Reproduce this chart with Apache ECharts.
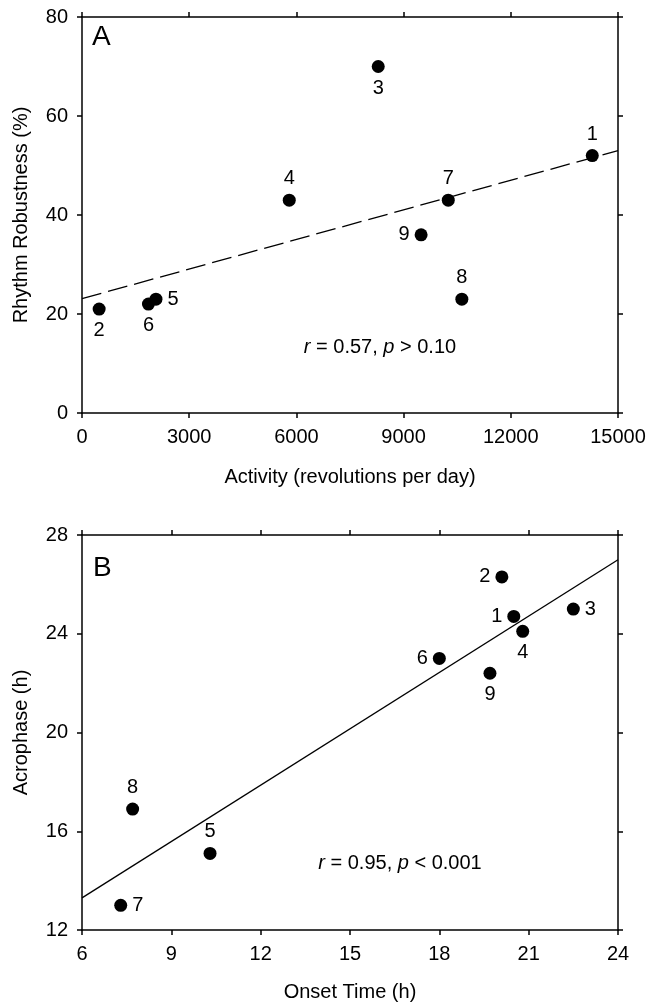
<!DOCTYPE html>
<html>
<head>
<meta charset="utf-8">
<script src="https://cdn.jsdelivr.net/npm/echarts@6/dist/echarts.min.js"></script>
<style>
  html, body { margin: 0; padding: 0; background: #fff; }
  #chart { width: 649px; height: 1004px; }
</style>
</head>
<body>
<div id="chart"></div>
<script>
// panel A: activity vs rhythm robustness
var idsA = ['1', '2', '3', '4', '5', '6', '7', '8', '9'];
var activityA = [14280, 480, 8290, 5800, 2070, 1860, 10250, 10630, 9490];
var robustA = [52, 21, 70, 43, 23, 22, 43, 23, 36];
var fitAx = [0, 15000];
var fitAy = [23.1, 53.0];
var ticksAx = [0, 15000, 3000];
var ticksAy = [0, 80, 20];

// panel B: onset time vs acrophase
var idsB = ['1', '2', '3', '4', '5', '6', '7', '8', '9'];
var onsetB = [20.5, 20.1, 22.5, 20.8, 10.3, 18.0, 7.3, 7.7, 19.7];
var acroB = [24.7, 26.3, 25.0, 24.1, 15.1, 23.0, 13.0, 16.9, 22.4];
var fitBx = [6, 24];
var fitBy = [13.3, 27.0];
var ticksBx = [6, 24, 3];
var ticksBy = [12, 28, 4];

// where each point number sits
var posA = ['top', 'bottom', 'bottom', 'top', 'right', 'bottom', 'top', 'top', 'left'];
var posB = ['left', 'left', 'right', 'bottom', 'top', 'left', 'right', 'top', 'bottom'];

var FONT = "'Liberation Sans', Arial, sans-serif";

function axis(grid, pos, t, name, gap, labels) {
  var a = {
    type: 'value',
    gridIndex: grid,
    position: pos,
    min: t[0],
    max: t[1],
    interval: t[2],
    splitLine: { show: false },
    axisLine: { show: true, onZero: false, lineStyle: { color: '#000', width: 1.5 } },
    axisTick: { show: true, inside: false, length: 5, lineStyle: { color: '#000', width: 1.5 } },
    axisLabel: {
      show: labels, color: '#000', fontSize: 20, fontFamily: FONT, margin: 14,
      formatter: function (v) { return String(v); }
    }
  };
  if (name) {
    a.name = name;
    a.nameLocation = 'middle';
    a.nameGap = gap;
    a.nameTextStyle = { color: '#000', fontSize: 20, fontFamily: FONT };
  }
  return a;
}

function points(xs, ys, ids, pos) {
  return xs.map(function (x, i) {
    return { value: [x, ys[i]], name: ids[i], label: { position: pos[i] } };
  });
}

function pairs(xs, ys) {
  return xs.map(function (x, i) { return [x, ys[i]]; });
}

var dotLabel = { show: true, formatter: '{b}', color: '#000', fontSize: 20, fontFamily: FONT, distance: 5 };

var chart = echarts.init(document.getElementById('chart'));
chart.setOption({
  animation: false,
  grid: [
    { left: 82, top: 17, width: 536, height: 396, containLabel: false, outerBoundsMode: 'none' },
    { left: 82, top: 535, width: 536, height: 395, containLabel: false, outerBoundsMode: 'none' }
  ],
  xAxis: [
    axis(0, 'bottom', ticksAx, 'Activity (revolutions per day)', 54, true),
    axis(0, 'top', ticksAx, null, 0, false),
    axis(1, 'bottom', ticksBx, 'Onset Time (h)', 52, true),
    axis(1, 'top', ticksBx, null, 0, false)
  ],
  yAxis: [
    axis(0, 'left', ticksAy, 'Rhythm Robustness (%)', 51, true),
    axis(0, 'right', ticksAy, null, 0, false),
    axis(1, 'left', ticksBy, 'Acrophase (h)', 51, true),
    axis(1, 'right', ticksBy, null, 0, false)
  ],
  series: [
    {
      type: 'line', xAxisIndex: 0, yAxisIndex: 0,
      data: pairs(fitAx, fitAy), symbol: 'none', silent: true,
      lineStyle: { color: '#000', width: 1.3, type: [20, 7] }
    },
    {
      type: 'line', xAxisIndex: 2, yAxisIndex: 2,
      data: pairs(fitBx, fitBy), symbol: 'none', silent: true,
      lineStyle: { color: '#000', width: 1.3 }
    },
    {
      type: 'scatter', xAxisIndex: 0, yAxisIndex: 0,
      symbolSize: 13, itemStyle: { color: '#000', opacity: 1 },
      label: dotLabel,
      data: points(activityA, robustA, idsA, posA)
    },
    {
      type: 'scatter', xAxisIndex: 2, yAxisIndex: 2,
      symbolSize: 13, itemStyle: { color: '#000', opacity: 1 },
      label: dotLabel,
      data: points(onsetB, acroB, idsB, posB)
    }
  ],
  graphic: [
    { type: 'text', x: 92, y: 37, style: { text: 'A', fontSize: 28, fontFamily: FONT, fill: '#000', verticalAlign: 'middle' } },
    { type: 'text', x: 93, y: 568, style: { text: 'B', fontSize: 28, fontFamily: FONT, fill: '#000', verticalAlign: 'middle' } },
    {
      type: 'text', x: 380, y: 347,
      style: {
        text: '{i|r} = 0.57, {i|p} > 0.10', fontSize: 20, fontFamily: FONT, fill: '#000',
        align: 'center', verticalAlign: 'middle',
        rich: { i: { fontStyle: 'italic', fontSize: 20, fontFamily: FONT, fill: '#000' } }
      }
    },
    {
      type: 'text', x: 400, y: 863,
      style: {
        text: '{i|r} = 0.95, {i|p} < 0.001', fontSize: 20, fontFamily: FONT, fill: '#000',
        align: 'center', verticalAlign: 'middle',
        rich: { i: { fontStyle: 'italic', fontSize: 20, fontFamily: FONT, fill: '#000' } }
      }
    }
  ]
});
</script>
</body>
</html>
